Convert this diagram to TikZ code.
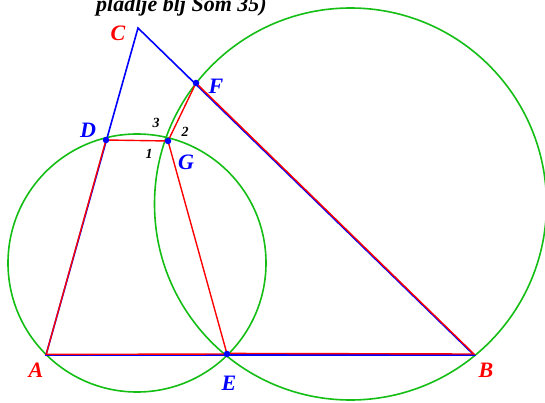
\documentclass[tikz,border=0pt]{standalone}
\usepackage{fontspec}
\setmainfont{Liberation Serif}
\begin{document}
\begin{tikzpicture}[x=1pt,y=1pt,
  lbl/.style={font=\fontsize{22}{24}\selectfont\bfseries\itshape, inner sep=0pt},
  num/.style={font=\fontsize{14}{16}\selectfont\bfseries\itshape, inner sep=0pt, text=black},
  circ/.style={draw={rgb,255:red,20;green,190;blue,20}, line width=1.6pt},
  bl/.style={draw=blue, line width=1.6pt},
  rd/.style={draw=red, line width=1.4pt},
  pt/.style={circle, fill=blue, inner sep=0pt, minimum size=6.5pt}]
\useasboundingbox (0,0) rectangle (545,402);
\clip (0,0) rectangle (545,402);
% points
\coordinate (A) at (46,47);
\coordinate (B) at (474,47);
\coordinate (C) at (138,374);
\coordinate (D) at (106,262);
\coordinate (E) at (227,48);
\coordinate (F) at (196,319);
\coordinate (G) at (168,261);
\coordinate (O1) at (137,139);
\coordinate (O2) at (350.5,198);
% circles
\draw[circ] (O1) circle (129);
\draw[circ] (O2) circle (196);
% blue triangle
\draw[bl] (A) -- (C) -- (B) -- cycle;
% red lines
\draw[rd] (A) -- (D) -- (G) -- (E) -- ([yshift=0.6pt]A);
\draw[rd] (G) -- (F) -- ([yshift=1pt]B) -- ([yshift=0.6pt]E);
% dots
\node[pt] (dD) at (D) {};
\node[pt] (dG) at (G) {};
\node[pt] (dF) at (F) {};
\node[pt] (dE) at (E) {};
% labels
\node[lbl, text=red] (lC) at (118,369) {C};
\node[lbl, text=blue] (lD) at (88,272) {D};
\node[lbl, text=blue] (lF) at (216,316) {F};
\node[lbl, text=blue] (lG) at (186,240) {G};
\node[lbl, text=red] (lA) at (36,32) {A};
\node[lbl, text=blue] (lE) at (229,19) {E};
\node[lbl, text=red] (lB) at (486,32) {B};
\node[num] (n3) at (156,279) {3};
\node[num] (n2) at (185,270) {2};
\node[num] (n1) at (149,248) {1};
% title (cut off at top, as in the reference)
\node[font=\fontsize{22}{24}\selectfont\bfseries\itshape, anchor=base west, inner sep=0pt] (title) at (96,390) {pladlje blj Som 35)};
\end{tikzpicture}
\end{document}
